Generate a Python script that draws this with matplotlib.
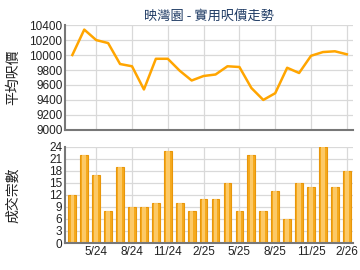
import numpy as np
import matplotlib.pyplot as plt

plt.rcParams['font.family'] = ['Noto Sans CJK TC', 'DejaVu Sans']

months = ['3/24', '4/24', '5/24', '6/24', '7/24', '8/24', '9/24', '10/24', '11/24', '12/24',
          '1/25', '2/25', '3/25', '4/25', '5/25', '6/25', '7/25', '8/25', '9/25', '10/25',
          '11/25', '12/25', '1/26', '2/26']
avg_price = [10000, 10340, 10200, 10160, 9880, 9850, 9540, 9950, 9950, 9790,
             9660, 9720, 9740, 9850, 9840, 9560, 9400, 9490, 9830, 9760,
             9990, 10040, 10050, 10010]
deals = [12, 22, 17, 8, 19, 9, 9, 10, 23, 10, 8, 11, 11, 15, 8, 22, 8, 13, 6, 15,
         14, 24, 14, 18]

x = np.arange(len(months))
tick_idx = list(range(2, len(months), 3))

fig = plt.figure(figsize=(3.6, 2.7), dpi=100)
ax1 = fig.add_axes([0.181, 0.519, 0.799, 0.388])
ax2 = fig.add_axes([0.181, 0.100, 0.799, 0.356])

grid_c = '#d9d9d9'
spine_c = '#777777'

for ax in (ax1, ax2):
    ax.set_xlim(-0.6, 23.5)
    ax.set_xticks(tick_idx)
    ax.grid(True, color=grid_c, lw=0.9)
    ax.set_axisbelow(True)
    for s in ('top', 'right'):
        ax.spines[s].set_visible(False)
    for s in ('left', 'bottom'):
        ax.spines[s].set_color(spine_c)
        ax.spines[s].set_linewidth(1.5)
    ax.tick_params(length=0, labelsize=8.5, colors='#222222', pad=2)

ax1.plot(x, avg_price, color='#ffa500', lw=1.8)
ax1.set_ylim(9000, 10400)
ax1.set_yticks(np.arange(9000, 10401, 200))
ax1.set_xticklabels([])
for lab in ax1.get_yticklabels():
    lab.set_family('Liberation Sans')
ax1.set_ylabel('平均呎價', fontsize=10, color='#222222')
ax1.yaxis.set_label_coords(-0.156, 0.5)
ax1.set_title('映灣園 - 實用呎價走勢', fontsize=9.5, color='#1f3b64', pad=4)

ax2.bar(x, deals, width=0.65, color='#f5aa1e', edgecolor='#e8960a', lw=0.8)
ax2.bar(x, deals, width=0.3, color='#ffd27a', lw=0, alpha=0.8)
ax2.set_ylim(0, 24)
ax2.set_yticks(np.arange(0, 25, 3))
ax2.set_xticklabels([months[i] for i in tick_idx])
for lab in ax2.get_yticklabels() + ax2.get_xticklabels():
    lab.set_family('Liberation Sans')
ax2.set_ylabel('成交宗數', fontsize=10, color='#222222')
ax2.yaxis.set_label_coords(-0.156, 0.5)

fig.savefig('out.png', dpi=100)
